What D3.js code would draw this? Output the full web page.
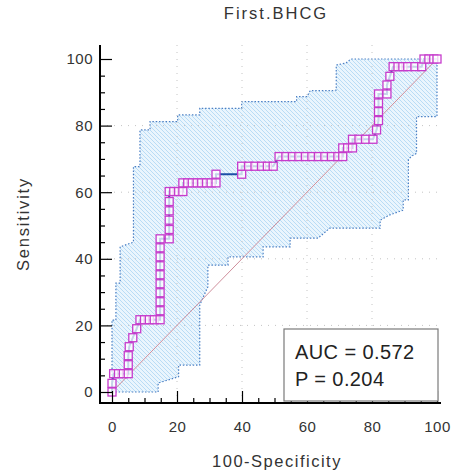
<!DOCTYPE html>
<html><head><meta charset="utf-8">
<script src="https://cdn.jsdelivr.net/npm/d3@7"></script>
<style>body{margin:0;background:#fff}svg{display:block}</style>
</head><body>
<svg id="c" width="457" height="472"></svg>
<script>
// ---- data ----
const chartTitle = "First.BHCG";
const xTitle = "100-Specificity";
const yTitle = "Sensitivity";
const majorTicks = [0, 20, 40, 60, 80, 100];
const minorTicks = [5, 10, 15, 25, 30, 35, 45, 50, 55, 65, 70, 75, 85, 90, 95];
const gridTicks = [20, 40, 60, 80];
const aucText = "AUC = 0.572";
const pText = "P = 0.204";

// ROC curve points (100-Specificity, Sensitivity)
const rocFpr = [0,0,0.5,2,3.5,5,5,5,5.3,6.4,7.6,8.6,10,11.5,13,14.8,14.8,14.8,14.8,14.8,14.8,14.8,14.8,14.8,14.8,
  17.6,17.6,17.6,17.6,17.6,17.6,19,20.5,21.8,21.8,23.3,24.7,26.2,27.6,29.1,30.5,32,32,39.9,39.9,42,44,46,47.8,49.6,
  51.4,53.5,55.5,57.5,59.5,61.5,63.5,65.5,67.5,69.5,71,71,72.5,74,74,76,78,80.3,81.4,82,82,82,82,84.6,84.6,85.5,
  86.5,88,89.5,91,93.2,95.3,96,97.5,99,100];
const rocSens = [0,2.6,5.5,5.5,5.5,5.5,8.2,10.9,13.6,16.3,19,21.7,21.7,21.7,21.7,21.7,24.4,27.1,29.8,32.5,35.2,37.9,40.6,43.3,46,
  46,48.8,51.6,54.4,57.2,60.2,60.2,60.2,60.2,62.8,62.8,62.8,62.8,62.8,62.8,62.8,62.8,65.4,65.4,67.8,67.8,67.8,67.8,67.8,67.8,
  70.7,70.7,70.7,70.7,70.7,70.7,70.7,70.7,70.7,70.7,70.7,73.3,73.3,73.3,75.9,75.9,75.9,75.9,78.7,81.5,84.2,86.8,89.5,89.5,92.2,94.8,
  97.7,97.7,97.7,97.7,97.7,97.7,100,100,100,100];

// 95% confidence bounds
const upperX = [0,0,1.2,1.2,2.5,2.5,6.6,6.6,8.6,8.6,11.7,11.7,20.2,20.2,27,27,39.9,39.9,56.8,56.8,60,61,68,69,69,72,73.5,100];
const upperY = [0,21.6,21.6,32.7,32.7,43.6,45,67.7,67.7,78.7,78.7,81.2,81.2,83.2,83.2,85.2,85.2,87.2,87.2,88.7,88.7,90.5,90.5,90.7,98.2,98.8,100,100];
const lowerX = [0,14.2,14.2,20.5,20.5,27,27,29.5,29.5,35.7,35.7,46.5,46.5,54.8,54.8,63.4,67,82.5,82.5,85.5,89.6,89.6,91.2,91.2,92,93.7,93.7,100,100];
const lowerY = [0,0,2.7,4.6,8.1,8.1,26.1,31.6,38.1,38.1,40.6,40.6,43.6,43.6,46.2,46.2,49.2,49.2,51.6,53.2,54.6,57.7,57.7,69.7,70.7,71.7,82.7,82.7,100];

// ---- drawing ----
const svg = d3.select("#c");
const x = d3.scaleLinear().domain([0, 100]).range([112, 437]);
const y = d3.scaleLinear().domain([0, 100]).range([392, 59]);
const axisX0 = 100, axisY0 = 403;

const defs = svg.append("defs");
const pat = defs.append("pattern").attr("id", "hatch").attr("patternUnits", "userSpaceOnUse")
  .attr("width", 4).attr("height", 4);
pat.append("rect").attr("width", 4).attr("height", 4).attr("fill", "#eaf5fd");
pat.append("path").attr("d", "M-1,-1L5,5M-1,3L1,5M3,-1L5,1").attr("stroke", "#b9dcf5").attr("stroke-width", 1);

// grid
const grid = svg.append("g");
grid.selectAll(".gx").data(gridTicks).join("line")
  .attr("x1", d => x(d)).attr("x2", d => x(d)).attr("y1", 45).attr("y2", axisY0)
  .attr("stroke", "#c4c4c4").attr("stroke-dasharray", "1,6");
grid.selectAll(".gy").data(gridTicks).join("line")
  .attr("y1", d => y(d)).attr("y2", d => y(d)).attr("x1", axisX0).attr("x2", 441)
  .attr("stroke", "#c4c4c4").attr("stroke-dasharray", "1,6");

// CI band
const upperPts = upperX.map((v, i) => [v, upperY[i]]);
const lowerPts = lowerX.map((v, i) => [v, lowerY[i]]);
const line = d3.line().x(d => x(d[0])).y(d => y(d[1]));
svg.append("path").attr("d", line(upperPts.concat(lowerPts.slice().reverse())) + "Z")
  .attr("fill", "url(#hatch)").attr("stroke", "none");
svg.append("path").attr("d", line(upperPts)).attr("fill", "none")
  .attr("stroke", "#4a7fc4").attr("stroke-width", 1.2).attr("stroke-dasharray", "1.5,1.8");
svg.append("path").attr("d", line(lowerPts)).attr("fill", "none")
  .attr("stroke", "#4a7fc4").attr("stroke-width", 1.2).attr("stroke-dasharray", "1.5,1.8");

grid.raise();

// diagonal
svg.append("line").attr("x1", x(0)).attr("y1", y(0)).attr("x2", x(100)).attr("y2", y(100))
  .attr("stroke", "#cf8f9c").attr("stroke-width", 1);

// ROC curve
const rocPts = rocFpr.map((v, i) => [v, rocSens[i]]);
svg.append("path").attr("d", line(rocPts)).attr("fill", "none")
  .attr("stroke", "#1d4fa6").attr("stroke-width", 2);
const sq = 8;
svg.append("g").selectAll("rect").data(rocPts).join("rect")
  .attr("x", d => x(d[0]) - sq / 2).attr("y", d => y(d[1]) - sq / 2)
  .attr("width", sq).attr("height", sq)
  .attr("fill", "#fff").attr("fill-opacity", 0.75)
  .attr("stroke", "#c63ccc").attr("stroke-width", 1.3);

// axes
const fontFam = "'Liberation Sans', Arial, sans-serif";
const yAxis = svg.append("g").attr("transform", `translate(${axisX0},0)`)
  .call(d3.axisLeft(y).tickValues(majorTicks).tickSize(-12).tickPadding(7));
const yMinor = svg.append("g").attr("transform", `translate(${axisX0},0)`)
  .call(d3.axisLeft(y).tickValues(minorTicks).tickSize(-5).tickFormat(""));
const xAxis = svg.append("g").attr("transform", `translate(0,${axisY0})`)
  .call(d3.axisBottom(x).tickValues(majorTicks).tickSize(-12).tickPadding(18));
const xMinor = svg.append("g").attr("transform", `translate(0,${axisY0})`)
  .call(d3.axisBottom(x).tickValues(minorTicks).tickSize(-5).tickFormat(""));
[yAxis, yMinor, xAxis, xMinor].forEach(g => {
  g.select(".domain").remove();
  g.selectAll(".tick line").attr("stroke", "#000").attr("stroke-width", 1.2);
  g.selectAll("text").attr("font-family", fontFam).attr("font-size", 15)
    .attr("fill", "#333").attr("letter-spacing", 0.5);
});
svg.append("line").attr("x1", axisX0).attr("x2", axisX0).attr("y1", 45).attr("y2", axisY0 + 1)
  .attr("stroke", "#000").attr("stroke-width", 2);
svg.append("line").attr("x1", axisX0 - 1).attr("x2", 441).attr("y1", axisY0).attr("y2", axisY0)
  .attr("stroke", "#000").attr("stroke-width", 2);

// titles
svg.append("text").attr("x", 276).attr("y", 19).attr("text-anchor", "middle")
  .attr("font-family", fontFam).attr("font-size", 16.5).attr("letter-spacing", 2)
  .attr("fill", "#333").text(chartTitle);
svg.append("text").attr("x", 277).attr("y", 467).attr("text-anchor", "middle")
  .attr("font-family", fontFam).attr("font-size", 16.5).attr("letter-spacing", 1.5)
  .attr("fill", "#333").text(xTitle);
svg.append("text").attr("transform", "translate(29,224) rotate(-90)").attr("text-anchor", "middle")
  .attr("font-family", fontFam).attr("font-size", 16.5).attr("letter-spacing", 1.8)
  .attr("fill", "#333").text(yTitle);

// legend box
const lg = svg.append("g");
lg.append("rect").attr("x", 284).attr("y", 329).attr("width", 154).attr("height", 72)
  .attr("fill", "#fff").attr("stroke", "#7a7a7a").attr("stroke-width", 1.2);
lg.append("text").attr("x", 295).attr("y", 359).attr("font-family", fontFam).attr("font-size", 20)
  .attr("letter-spacing", 0.4).attr("fill", "#222").text(aucText);
lg.append("text").attr("x", 295).attr("y", 386).attr("font-family", fontFam).attr("font-size", 20)
  .attr("letter-spacing", 0.4).attr("fill", "#222").text(pText);
</script>
</body></html>
